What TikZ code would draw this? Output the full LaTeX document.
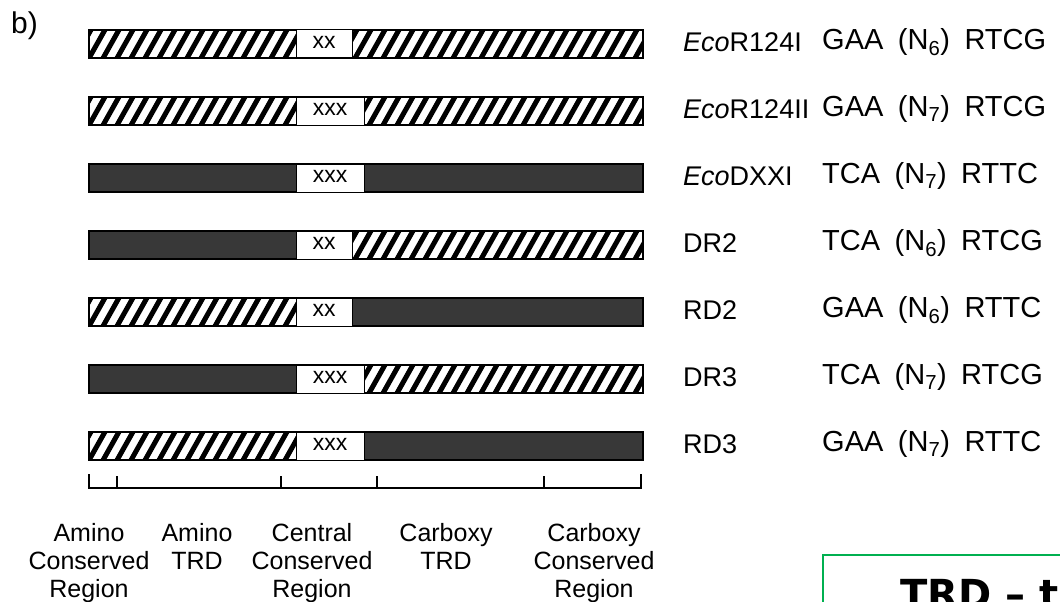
\documentclass[tikz,border=0pt]{standalone}
\usepackage{fontspec}
\setmainfont{Liberation Sans}
\newfontfamily\trdfont{DejaVu Sans}
\definecolor{trdgreen}{RGB}{0,176,80}
\newcommand{\segh}[3]{%
	\begin{scope}
		\clip (#1,#3) rectangle (#2,#3+28);
		\foreach \s in {60,74,...,660} \draw[line width=5pt] (\s,#3+30) -- ++(18,-32);
	\end{scope}}
\newcommand{\segd}[3]{\fill[black!78] (#1,#3) rectangle (#2,#3+28);}
\newcommand{\seqgap}{\hspace{0.5em}}
\begin{document}
\begin{tikzpicture}[x=1pt,y=-1pt,
		lab/.style={anchor=west,inner sep=0pt,font=\fontsize{27}{30}\selectfont},
		seqlab/.style={anchor=west,inner sep=0pt,font=\fontsize{29}{32}\selectfont},
		reg/.style={anchor=base,align=center,inner sep=0pt,font=\fontsize{25}{28}\selectfont},
		boxlab/.style={inner sep=0pt,font=\fontsize{23}{24}\selectfont}]
	\useasboundingbox (0,0) rectangle (1060,602);
	\clip (0,0) rectangle (1060,602);
	\node[anchor=base west,inner sep=0pt,font=\fontsize{30}{32}\selectfont] (part) at (11,34) {b)};
	\foreach \i/\lt/\bx/\bt/\rt/\nm/\sq in {
			0/h/352/xx/h/{\textit{Eco}R124I}/{GAA\seqgap(N\textsubscript{6})\seqgap RTCG},
			1/h/364/xxx/h/{\textit{Eco}R124II}/{GAA\seqgap(N\textsubscript{7})\seqgap RTCG},
			2/d/364/xxx/d/{\textit{Eco}DXXI}/{TCA\seqgap(N\textsubscript{7})\seqgap RTTC},
			3/d/352/xx/h/{DR2}/{TCA\seqgap(N\textsubscript{6})\seqgap RTCG},
			4/h/352/xx/d/{RD2}/{GAA\seqgap(N\textsubscript{6})\seqgap RTTC},
			5/d/364/xxx/h/{DR3}/{TCA\seqgap(N\textsubscript{7})\seqgap RTCG},
			6/h/364/xxx/d/{RD3}/{GAA\seqgap(N\textsubscript{7})\seqgap RTTC}}{
		\pgfmathsetmacro\yt{30+67*\i}
		\csname seg\lt\endcsname{89}{296}{\yt}
		\csname seg\rt\endcsname{\bx}{643}{\yt}
		\draw[line width=2.5pt] (89,\yt) rectangle (643,\yt+28);
		\draw[line width=1pt,fill=white] (296,\yt) rectangle (\bx,\yt+28);
		\node[boxlab] (box\i) at ({(296+\bx)/2},\yt+12) {\bt};
		\node[lab] (lab\i) at (683,\yt+12) {\nm};
		\node[seqlab] (seq\i) at (822,\yt+12) {\sq};
	}
	\draw[line width=1.5pt] (89,474) |- (641,488) -- (641,474);
	\foreach \t in {117,281,377,544} \draw[line width=1.5pt] (\t,488) -- (\t,476);
	\node[reg] (aminocr) at (89,597) {Amino\\Conserved\\Region};
	\node[reg] (aminotrd) at (197,569) {Amino\\TRD};
	\node[reg] (centralcr) at (312,597) {Central\\Conserved\\Region};
	\node[reg] (carbtrd) at (446,569) {Carboxy\\TRD};
	\node[reg] (carbcr) at (594,597) {Carboxy\\Conserved\\Region};
	\draw[trdgreen,line width=2pt] (823,555) rectangle (1080,640);
	\node[anchor=base west,inner sep=0pt,font=\trdfont\bfseries\fontsize{40}{44}\selectfont] (trd) at (900,608) {TRD – t};
\end{tikzpicture}
\end{document}
